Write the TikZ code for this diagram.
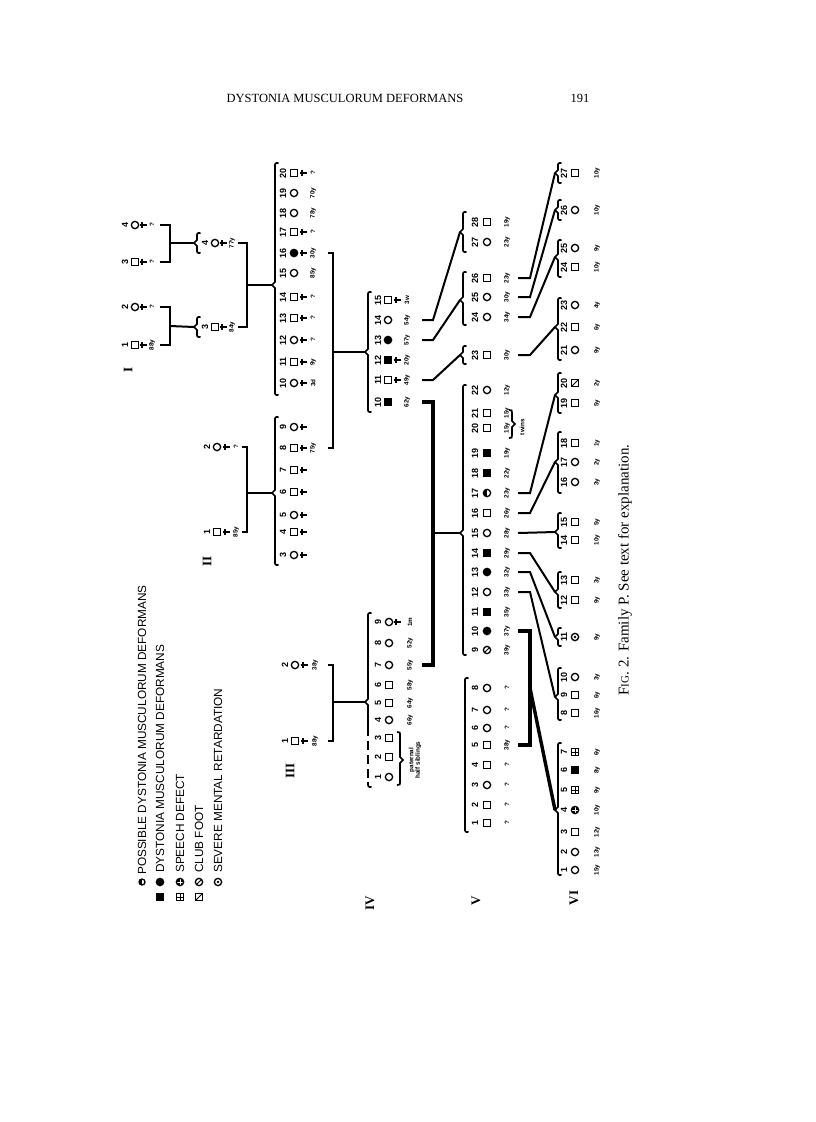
\documentclass[tikz,border=0pt]{standalone}
\usepackage{fontspec}
\setmainfont{Liberation Serif}
\newfontfamily\sansf{Liberation Sans}
\newcommand\numf{\sansf\bfseries\fontsize{9}{9}\selectfont}
\newcommand\agef{\sansf\bfseries\fontsize{6.3}{6.3}\selectfont}
\newcommand\legf{\sansf\fontsize{11.8}{11.8}\selectfont}
\newcommand\romf{\bfseries\fontsize{13}{13}\selectfont}
\newcommand\headf{\fontsize{12.5}{12.5}\selectfont}
\newcommand\capf{\fontsize{15}{15}\selectfont}
\def\symdx{11}\def\dagdx{20}\def\agedx{30}\def\tickdx{45}
\newcommand\pers[7]{%
  \node[num] (#1n) at (#2,#3) {#4};
  \node[#5] (#1) at ({#2+\symdx},#3) {};
  \ifnum#6=1 \draw[dagl] ({#2+\dagdx-3.5},#3) -- ({#2+\dagdx+4},#3) ({#2+\dagdx-1},{#3-3}) -- ({#2+\dagdx-1},{#3+3});\fi
  \node[agel] (#1a) at ({#2+\agedx},#3) {#7};
  \coordinate (#1t) at ({#2+\tickdx},#3);
}
\newcommand\sib[5]{%
  \draw[brc] ({#2+3.5},#3) .. controls (#2,#3) .. (#2,{#3+4}) -- (#2,{#4-3}) -- ({#2-3},#4) -- (#2,{#4+3}) -- (#2,{#5-4}) .. controls (#2,#5) .. ({#2+3.5},#5);
  \coordinate (#1) at ({#2-3},#4);
}
\tikzset{
 lab/.style={inner sep=0pt, rotate=90},
 num/.style={lab, font=\numf},
 agel/.style={lab, font=\agef},
 rom/.style={lab, font=\romf},
 dagl/.style={line width=1.1pt},
 sym/.style={draw, line width=1.3pt, inner sep=0pt},
 sq/.style={sym, rectangle, minimum size=6.5pt},
 ci/.style={sym, circle, minimum size=7.3pt},
 sqf/.style={sq, fill=black},
 cif/.style={ci, fill=black},
 cip/.style={ci, path picture={\fill (path picture bounding box.north west) rectangle (path picture bounding box.south);}},
 sqs/.style={sq, path picture={\draw[line width=1pt] (path picture bounding box.north)--(path picture bounding box.south) (path picture bounding box.west)--(path picture bounding box.east);}},
 cis/.style={ci, fill=black, path picture={\draw[white,line width=0.6pt] (path picture bounding box.north)--(path picture bounding box.south) (path picture bounding box.west)--(path picture bounding box.east);}},
 sqc/.style={sq, path picture={\draw[line width=1pt] (path picture bounding box.south west)--(path picture bounding box.north east);}},
 cic/.style={ci, path picture={\draw[line width=1pt] (path picture bounding box.south west)--(path picture bounding box.north east);}},
 cir/.style={ci, path picture={\fill (path picture bounding box.center) circle (1.4pt);}},
 brc/.style={line width=1.7pt},
 con/.style={line width=2pt},
 thk/.style={line width=3.4pt},
}
\begin{document}
\begin{tikzpicture}[x=1pt,y=-1pt]
\useasboundingbox (0,0) rectangle (816,1122);
% header and caption
\node[font=\headf, inner sep=0pt] (hdr) at (345,98) {DYSTONIA MUSCULORUM DEFORMANS};
\node[font=\headf, inner sep=0pt] (pg) at (580,98) {191};
\node[lab, font=\capf] (cap) at (625,570) {F{\fontsize{11}{11}\selectfont IG}. 2. Family P. See text for explanation.};
% legend
\node[cip, minimum size=6pt] (L1s) at (142,882) {};
\node[lab, font=\legf, anchor=west] (L1) at (142,875) {POSSIBLE DYSTONIA MUSCULORUM DEFORMANS};
\node[sqf] (L2a) at (160,897) {};
\node[cif] (L2b) at (160,882) {};
\node[lab, font=\legf, anchor=west] (L2) at (160,873) {DYSTONIA MUSCULORUM DEFORMANS};
\node[sqs] (L3a) at (180,897) {};
\node[cis] (L3b) at (180,882) {};
\node[lab, font=\legf, anchor=west] (L3) at (180,873) {SPEECH DEFECT};
\node[sqc] (L4a) at (199,897) {};
\node[cic] (L4b) at (199,882) {};
\node[lab, font=\legf, anchor=west] (L4) at (199,873) {CLUB FOOT};
\node[cir] (L5b) at (218,882) {};
\node[lab, font=\legf, anchor=west] (L5) at (218,873) {SEVERE MENTAL RETARDATION};
% generation labels
\node[rom] (gI) at (128,370) {I};
\node[rom] (gII) at (207,561) {II};
\node[rom] (gIII) at (290,771) {III};
\node[rom] (gIV) at (370,903) {IV};
\node[rom] (gV) at (476,901) {V};
\node[rom] (gVI) at (574,898) {VI};
% ---------- generation I
\def\symdx{10}\def\dagdx{18}\def\agedx{27}\def\tickdx{35}
\pers{Ia1}{125}{345}{1}{sq}{1}{88y}
\pers{Ia2}{125}{307}{2}{ci}{1}{?}
\pers{Ia3}{125}{262}{3}{sq}{1}{?}
\pers{Ia4}{125}{225}{4}{ci}{1}{?}
\def\tickdx{33}
\pers{Ib3}{205}{327}{3}{sq}{1}{84y}
\pers{Ib4}{205}{243}{4}{ci}{1}{77y}
\def\symdx{10}\def\dagdx{19}\def\agedx{29}\def\tickdx{35}
\pers{Pa1}{207}{532}{1}{sq}{1}{85y}
\pers{Pa2}{207}{447}{2}{ci}{1}{?}
\sib{bIb3}{197}{317}{327}{337}
\sib{bIb4}{197}{233}{243}{253}
\draw[con] (Ia1t) -- ++(10,0) |- (Ia2t);
\draw[con] (Ia3t) -- ++(10,0) |- (Ia4t);
\coordinate (m1) at (170,326); \draw[con] (m1) -- (bIb3);
\coordinate (m2) at (170,243); \draw[con] (m2) -- (bIb4);
\draw[con] (Ib3t) -- ++(9,0) |- (Ib4t);
\draw[con] (Pa1t) -- ++(5,0) |- (Pa2t);
% ---------- generation II
\def\symdx{11}\def\dagdx{20}\def\agedx{30}\def\tickdx{45}
\pers{II20}{283}{173}{20}{sq}{1}{?}
\pers{II19}{283}{193}{19}{ci}{0}{70y}
\pers{II18}{283}{213}{18}{ci}{0}{78y}
\pers{II17}{283}{232}{17}{sq}{1}{?}
\pers{II16}{283}{253}{16}{cif}{1}{30y}
\pers{II15}{283}{273}{15}{ci}{0}{85y}
\pers{II14}{283}{297}{14}{sq}{1}{?}
\pers{II13}{283}{318}{13}{sq}{1}{?}
\pers{II12}{283}{340}{12}{ci}{1}{?}
\pers{II11}{283}{362}{11}{sq}{1}{9y}
\pers{II10}{283}{383}{10}{ci}{1}{3d}
\pers{II9}{283}{427}{9}{ci}{1}{}
\pers{II8}{283}{448}{8}{sq}{1}{75y}
\pers{II7}{283}{470}{7}{sq}{1}{}
\pers{II6}{283}{492}{6}{sq}{1}{}
\pers{II5}{283}{515}{5}{ci}{1}{}
\pers{II4}{283}{532}{4}{sq}{1}{}
\pers{II3}{283}{555}{3}{ci}{1}{}
\sib{bII2}{275}{163}{285}{395}
\sib{bII1}{275}{417}{493}{565}
\coordinate (m3) at (247,285); \draw[con] (m3) -- (bII2);
\coordinate (m4) at (247,493); \draw[con] (m4) -- (bII1);
\draw[con] (II16t) -- ++(5,0) |- (II8t);
% III parents
\def\symdx{10}\def\dagdx{19}\def\agedx{30}\def\tickdx{43}
\pers{Pb2}{285}{665}{2}{ci}{1}{38y}
\pers{Pb1}{285}{741}{1}{sq}{1}{88y}
\draw[con] (Pb2t) -- ++(5,0) |- (Pb1t);
% ---------- generation III
\def\symdx{10}\def\dagdx{19}\def\agedx{29}\def\tickdx{44}
\pers{III15}{378}{300}{15}{sq}{1}{3w}
\pers{III14}{378}{320}{14}{ci}{0}{54y}
\pers{III13}{378}{340}{13}{cif}{0}{57y}
\pers{III12}{378}{360}{12}{sqf}{1}{20y}
\pers{III11}{378}{380}{11}{sq}{1}{49y}
\pers{III10}{378}{402}{10}{sqf}{0}{62y}
\sib{bIII}{368}{292}{352}{412}
\coordinate (m5) at (333,352); \draw[con] (m5) -- (bIII);
% ---------- generation IV
\def\symdx{11}\def\dagdx{19}\def\agedx{32}\def\tickdx{44}
\pers{IV9}{378}{622}{9}{ci}{1}{1m}
\pers{IV8}{378}{643}{8}{ci}{0}{52y}
\pers{IV7}{378}{665}{7}{ci}{0}{55y}
\pers{IV6}{378}{685}{6}{sq}{0}{58y}
\pers{IV5}{378}{703}{5}{sq}{0}{64y}
\pers{IV4}{378}{720}{4}{ci}{0}{66y}
\pers{IV3}{378}{738}{3}{sq}{0}{}
\pers{IV2}{378}{757}{2}{sq}{0}{}
\pers{IV1}{378}{777}{1}{ci}{0}{}
\draw[brc] (371.5,613) .. controls (368,613) .. (368,617) -- (368,699) -- (365,702) -- (368,705) -- (368,727);
\draw[brc, dash pattern=on 9pt off 5pt] (368,727) -- (368,782);
\draw[brc] (368,782) .. controls (368,787) .. (371.5,787);
\coordinate (bIV) at (365,702);
\coordinate (m6) at (333,702); \draw[con] (m6) -- (bIV);
\draw[brc] (397,732) .. controls (400,732) .. (400,736) -- (400,757) -- (403,760) -- (400,763) -- (400,781) .. controls (400,785) .. (397,785);
\node[lab, font=\agef, align=center] (phs) at (415,760) {paternal\\half siblings};
\draw[thk] (III10t) -- ++(11,0) |- (IV7t);
% ---------- generation V
\def\symdx{12}\def\dagdx{20}\def\agedx{32}\def\tickdx{43}
\pers{V28}{475}{222}{28}{sq}{0}{19y}
\pers{V27}{475}{242}{27}{ci}{0}{23y}
\pers{V26}{475}{278}{26}{sq}{0}{23y}
\pers{V25}{475}{297}{25}{ci}{0}{30y}
\pers{V24}{475}{317}{24}{ci}{0}{34y}
\pers{V23}{475}{355}{23}{sq}{0}{30y}
\pers{V22}{475}{390}{22}{ci}{0}{12y}
\pers{V21}{475}{413}{21}{sq}{0}{15y}
\pers{V20}{475}{428}{20}{sq}{0}{15y}
\pers{V19}{475}{453}{19}{sqf}{0}{19y}
\pers{V18}{475}{473}{18}{sqf}{0}{22y}
\pers{V17}{475}{493}{17}{cip}{0}{23y}
\pers{V16}{475}{513}{16}{sq}{0}{26y}
\pers{V15}{475}{533}{15}{ci}{0}{28y}
\pers{V14}{475}{553}{14}{sqf}{0}{29y}
\pers{V13}{475}{572}{13}{cif}{0}{32y}
\pers{V12}{475}{592}{12}{ci}{0}{33y}
\pers{V11}{475}{612}{11}{sqf}{0}{35y}
\pers{V10}{475}{631}{10}{cif}{0}{37y}
\pers{V9}{475}{650}{9}{cic}{0}{39y}
\pers{V8}{475}{688}{8}{ci}{0}{?}
\pers{V7}{475}{710}{7}{ci}{0}{?}
\pers{V6}{475}{728}{6}{ci}{0}{?}
\pers{V5}{475}{745}{5}{sq}{0}{38y}
\pers{V4}{475}{765}{4}{sq}{0}{?}
\pers{V3}{475}{785}{3}{ci}{0}{?}
\pers{V2}{475}{805}{2}{sq}{0}{?}
\pers{V1}{475}{823}{1}{sq}{0}{?}
\sib{bV5}{463}{212}{232}{252}
\sib{bV4}{463}{272}{300}{325}
\sib{bV3}{463}{346}{355}{364}
\sib{bV2}{463}{385}{533}{655}
\draw[brc] (468.5,678) .. controls (465,678) .. (465,682) -- (465,828) .. controls (465,832) .. (468.5,832);
\coordinate (m7) at (433,533); \draw[con] (m7) -- (bV2);
\draw[con] (III14t) -- ++(11,0) -- (bV5);
\draw[con] (III13t) -- ++(11,0) -- (bV4);
\draw[con] (III11t) -- ++(11,0) -- (bV3);
\draw[brc] (509,410) .. controls (512,410) .. (512,413) -- (512,421) -- (515,424) -- (512,427) -- (512,435) .. controls (512,438) .. (509,438);
\node[lab, font=\agef] (tw) at (522,427) {twins};
% ---------- generation VI
\def\symdx{11}\def\dagdx{20}\def\agedx{33}\def\tickdx{45}
\pers{VI27}{564}{173}{27}{sq}{0}{10y}
\pers{VI26}{564}{210}{26}{ci}{0}{10y}
\pers{VI25}{564}{248}{25}{ci}{0}{9y}
\pers{VI24}{564}{267}{24}{sq}{0}{10y}
\pers{VI23}{564}{305}{23}{ci}{0}{4y}
\pers{VI22}{564}{327}{22}{sq}{0}{6y}
\pers{VI21}{564}{350}{21}{ci}{0}{9y}
\pers{VI20}{564}{383}{20}{sqc}{0}{2y}
\pers{VI19}{564}{403}{19}{sq}{0}{5y}
\pers{VI18}{564}{443}{18}{sq}{0}{1y}
\pers{VI17}{564}{462}{17}{ci}{0}{2y}
\pers{VI16}{564}{482}{16}{ci}{0}{3y}
\pers{VI15}{564}{522}{15}{sq}{0}{5y}
\pers{VI14}{564}{540}{14}{sq}{0}{10y}
\pers{VI13}{564}{580}{13}{sq}{0}{3y}
\pers{VI12}{564}{600}{12}{sq}{0}{9y}
\pers{VI11}{564}{637}{11}{cir}{0}{9y}
\pers{VI10}{564}{677}{10}{ci}{0}{3y}
\pers{VI9}{564}{695}{9}{sq}{0}{6y}
\pers{VI8}{564}{713}{8}{sq}{0}{16y}
\pers{VI7}{564}{752}{7}{sqs}{0}{6y}
\pers{VI6}{564}{770}{6}{sqf}{0}{8y}
\pers{VI5}{564}{790}{5}{sqs}{0}{9y}
\pers{VI4}{564}{810}{4}{cis}{0}{10y}
\pers{VI3}{564}{832}{3}{sq}{0}{12y}
\pers{VI2}{564}{852}{2}{ci}{0}{13y}
\pers{VI1}{564}{870}{1}{ci}{0}{15y}
\sib{bW27}{558}{163}{173}{183}
\sib{bW26}{558}{200}{210}{220}
\sib{bW24}{558}{240}{257}{277}
\sib{bW21}{558}{298}{327}{360}
\sib{bW19}{558}{373}{395}{413}
\sib{bW16}{558}{432}{462}{493}
\sib{bW14}{558}{513}{532}{548}
\sib{bW12}{558}{572}{592}{608}
\sib{bW11}{558}{628}{637}{646}
\sib{bW8}{558}{668}{697}{720}
\sib{bW1}{558}{743}{810}{875}
\draw[con] (V26t) -- ++(12,0) -- (bW27);
\draw[con] (V25t) -- ++(12,0) -- (bW26);
\draw[con] (V24t) -- ++(12,0) -- (bW24);
\draw[con] (V23t) -- ++(12,0) -- (bW21);
\draw[con] (V17t) -- ++(12,0) -- (bW19);
\draw[con] (V16t) -- ++(12,0) -- (bW16);
\draw[con] (V15t) -- (bW14);
\draw[con] (V14t) -- ++(12,0) -- (bW12);
\draw[con] (V13t) -- ++(12,0) -- (bW11);
\draw[con] (V12t) -- ++(12,0) -- (bW8);
\draw[thk] (V10t) -- ++(12,0) |- (V5t);
\coordinate (m9) at (530,688); \draw[thk] (m9) -- (bW1);
\end{tikzpicture}
\end{document}
